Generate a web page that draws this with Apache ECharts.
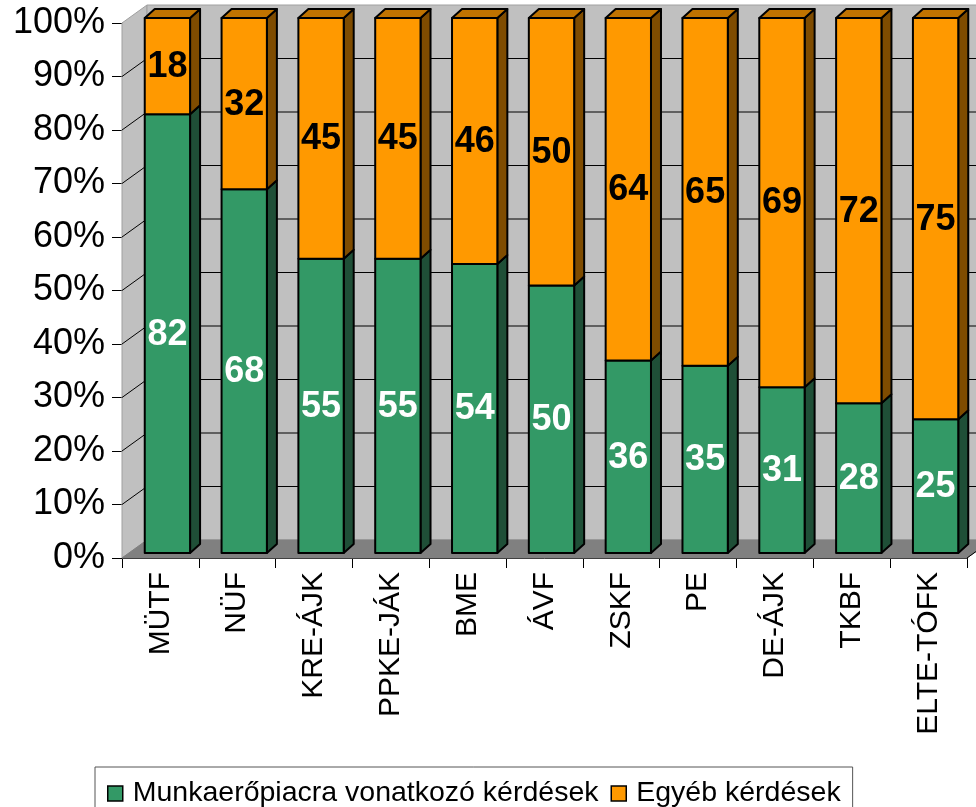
<!DOCTYPE html>
<html>
<head>
<meta charset="utf-8">
<script src="https://cdn.jsdelivr.net/npm/echarts@6/dist/echarts.min.js"></script>
<style>
html,body{margin:0;padding:0;background:#fff;}
#chart{width:976px;height:807px;}
</style>
</head>
<body>
<div id="chart"></div>
<script>
var categories = ['MÜTF','NÜF','KRE-ÁJK','PPKE-JÁK','BME','ÁVF','ZSKF','PE','DE-ÁJK','TKBF','ELTE-TÓFK'];
var munkaero = [82,68,55,55,54,50,36,35,31,28,25];
var egyeb = [18,32,45,45,46,50,64,65,69,72,75];
var seriesNames = ['Munkaerőpiacra vonatkozó kérdések','Egyéb kérdések'];
var yTicks = [0,10,20,30,40,50,60,70,80,90,100];

var FONT = '"Liberation Sans", Arial, sans-serif';
// 3D projection parameters (pixels)
var WALL_DX = 25, WALL_DY = -18;   // front plane -> back wall
var BAR_OX = 7, BAR_OY = -5;       // front plane -> bar front face
var BAR_DX = 10, BAR_DY = -9;      // bar depth
var BAR_W = 0.59;                  // fraction of band

function wallsRender(params, api) {
  var cs = params.coordSys;
  var x0 = cs.x, x1 = cs.x + cs.width;
  var yb = api.coord([0, 0])[1], yt = api.coord([0, 100])[1];
  var ch = [];
  ch.push({type:'polygon', shape:{points:[[x0,yt],[x0+WALL_DX,yt+WALL_DY],[x0+WALL_DX,yb+WALL_DY],[x0,yb]]},
    style:{fill:'#c0c0c0', stroke:'#a0a0a0', lineWidth:1}});
  ch.push({type:'polygon', shape:{points:[[x0+WALL_DX,yt+WALL_DY],[x1+WALL_DX,yt+WALL_DY],[x1+WALL_DX,yb+WALL_DY],[x0+WALL_DX,yb+WALL_DY]]},
    style:{fill:'#c0c0c0', stroke:'#a0a0a0', lineWidth:1}});
  ch.push({type:'polygon', shape:{points:[[x0,yb],[x0+WALL_DX,yb+WALL_DY],[x1+WALL_DX,yb+WALL_DY],[x1,yb]]},
    style:{fill:'#808080', stroke:'#808080', lineWidth:1}});
  for (var i = 1; i < yTicks.length - 1; i++) {
    var y = api.coord([0, yTicks[i]])[1];
    ch.push({type:'polyline', shape:{points:[[x0,y],[x0+WALL_DX,y+WALL_DY],[x1+WALL_DX,y+WALL_DY]]},
      style:{stroke:'#000', lineWidth:1, fill:null}});
  }
  ch.push({type:'line', shape:{x1:x1,y1:yb,x2:x1+WALL_DX,y2:yb+WALL_DY}, style:{stroke:'#000',lineWidth:1}});
  return {type:'group', children:ch};
}

function makeBarRender(front, side, top, labelColor, drawTop) {
  return function (params, api) {
    var idx = api.value(0);
    var v0 = api.value(1), v1 = api.value(2), lab = api.value(3);
    var band = api.size([1, 0])[0];
    var w = band * BAR_W;
    var cx = api.coord([idx, 0])[0] + BAR_OX;
    var yb = api.coord([idx, v0])[1] + BAR_OY;
    var yt = api.coord([idx, v1])[1] + BAR_OY;
    var xl = cx - w / 2, xr = cx + w / 2;
    var st = {stroke:'#000', lineWidth:2, lineJoin:'round'};
    var ch = [];
    ch.push({type:'polygon', shape:{points:[[xr,yb],[xr+BAR_DX,yb+BAR_DY],[xr+BAR_DX,yt+BAR_DY],[xr,yt]]},
      style:Object.assign({fill:side}, st)});
    if (drawTop) {
      ch.push({type:'polygon', shape:{points:[[xl,yt],[xl+BAR_DX,yt+BAR_DY],[xr+BAR_DX,yt+BAR_DY],[xr,yt]]},
        style:Object.assign({fill:top}, st)});
    }
    ch.push({type:'rect', shape:{x:xl, y:yt, width:w, height:yb-yt},
      style:Object.assign({fill:front}, st)});
    ch.push({type:'text', style:{text:String(lab), x:cx, y:(yt+yb)/2 + 1, align:'center', verticalAlign:'middle',
      fill:labelColor, font:'bold 36px ' + FONT}});
    return {type:'group', children:ch};
  };
}

var greenData = [], orangeData = [];
for (var i = 0; i < categories.length; i++) {
  greenData.push([i, 0, munkaero[i], munkaero[i]]);
  orangeData.push([i, munkaero[i], munkaero[i] + egyeb[i], egyeb[i]]);
}

var chart = echarts.init(document.getElementById('chart'), null, {renderer:'canvas'});
chart.setOption({
  animation:false,
  backgroundColor:'#fff',
  textStyle:{fontFamily:FONT},
  grid:{left:122, top:23, width:845, height:535},
  xAxis:{
    type:'category', data:categories,
    axisLine:{lineStyle:{color:'#000', width:1}},
    axisTick:{show:true, length:10, lineStyle:{color:'#000'}},
    axisLabel:{rotate:90, margin:14, fontSize:30, color:'#000', fontFamily:FONT, interval:0},
    splitLine:{show:false}
  },
  yAxis:{
    type:'value', min:0, max:100, interval:10,
    axisLine:{show:true, lineStyle:{color:'#000', width:1}},
    axisTick:{show:true, length:10, lineStyle:{color:'#000'}},
    axisLabel:{formatter:'{value}%', fontSize:36, color:'#000', margin:17, fontFamily:FONT},
    splitLine:{show:false}
  },
  legend:{
    data:seriesNames,
    left:95, top:767,
    padding:[12, 12, 20, 12],
    itemGap:12, itemWidth:15, itemHeight:15,
    icon:'rect',
    borderColor:'#555', borderWidth:1,
    textStyle:{fontSize:28.5, color:'#000', fontFamily:FONT, padding:[0,0,0,5]},
    itemStyle:{borderColor:'#000', borderWidth:1.5}
  },
  series:[
    {type:'custom', name:'walls', renderItem:wallsRender, data:[[0,0]], z:1, silent:true},
    {type:'custom', name:seriesNames[0], renderItem:makeBarRender('#339966','#1f4f37','#267350','#fff', false),
      data:greenData, z:3, itemStyle:{color:'#339966'}},
    {type:'custom', name:seriesNames[1], renderItem:makeBarRender('#ff9900','#7f4c00','#c07300','#000', true),
      data:orangeData, z:4, itemStyle:{color:'#ff9900'}}
  ]
});
</script>
</body>
</html>
